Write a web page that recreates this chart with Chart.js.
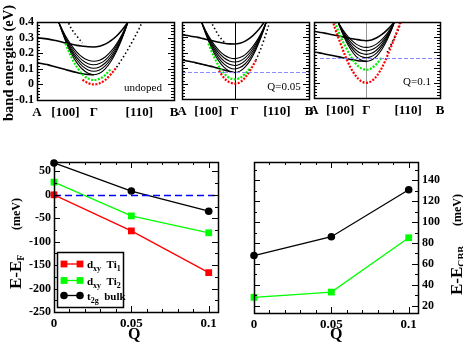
<!DOCTYPE html>
<html>
<head>
<meta charset="utf-8">
<script src="https://cdn.jsdelivr.net/npm/chart.js@4.4.0/dist/chart.umd.min.js"></script>
<style>
html, body { margin: 0; padding: 0; background: #fff; }
#wrap { position: relative; width: 463px; height: 343px; overflow: hidden; }
#wrap canvas { position: absolute; left: 0; top: 0; }
</style>
</head>
<body>
<div id="wrap">
  <canvas id="band0" width="463" height="343"></canvas>
  <canvas id="band1" width="463" height="343"></canvas>
  <canvas id="band2" width="463" height="343"></canvas>
  <canvas id="efChart" width="463" height="343"></canvas>
  <canvas id="cbbChart" width="463" height="343"></canvas>
</div>
<script>
const _ = null;
// k path: A (-1) -> Gamma (0) -> B (1.41)
const kx = [-1.0,-0.9,-0.8,-0.7,-0.6,-0.5,-0.4,-0.3,-0.2,-0.1,0,0.1,0.2,0.3,0.4,0.5,0.6,0.7,0.8,0.9,1.0];
const kTickVals = [-1, -0.5, 0, 0.8, 1.41];
const kTickText = ['A', '[100]', 'Γ', '[110]', 'B'];
const panelNames = ['undoped', 'Q=0.05', 'Q=0.1'];
const efTop = [null, 0.077, 0.166];

// undoped
const q0HeavyUp  = [0.300,0.295,0.290,0.283,0.275,0.266,0.258,0.250,0.245,0.241,0.240,0.245,0.258,0.280,0.310,0.350,0.400,0.460,_,_,_];
const q0HeavyLow = [0.140,0.132,0.125,0.115,0.105,0.095,0.085,0.076,0.068,0.063,0.062,_,_,_,_,_,_,_,_,_,_];
const q0Sub1 = [_,_,_,0.490,0.380,0.280,0.200,0.140,0.097,0.071,0.062,0.071,0.100,0.147,0.212,0.297,0.400,0.520,_,_,_];
const q0Sub2 = [_,_,_,0.487,0.380,0.289,0.215,0.158,0.117,0.092,0.084,0.093,0.119,0.163,0.224,0.303,0.400,0.514,_,_,_];
const q0Sub3 = [_,_,_,0.481,0.381,0.296,0.227,0.173,0.135,0.112,0.104,0.112,0.137,0.178,0.235,0.309,0.400,0.507,_,_,_];
const q0Sub4 = [_,_,_,0.475,0.383,0.304,0.240,0.190,0.154,0.133,0.126,0.134,0.156,0.195,0.248,0.316,0.400,0.499,_,_,_];
const q0Sub5 = [_,_,_,0.469,0.384,0.312,0.253,0.207,0.174,0.155,0.148,0.155,0.176,0.211,0.260,0.323,0.400,0.491,_,_,_];
const q0Green = [_,_,_,_,_,0.262,0.178,0.112,0.065,0.037,0.028,0.036,0.060,0.100,_,_,_,_,_,_,_];
const q0Red   = [_,_,_,_,_,_,_,_,0.030,0.008,0.000,0.007,0.028,0.065,0.110,_,_,_,_,_,_];
const q0LightR = [_,_,_,_,_,_,_,_,_,_,_,_,_,_,0.110,0.165,0.225,0.290,0.360,0.440,_];
const q0LightL = [_,_,_,_,_,0.440,0.360,0.310,0.265,_,_,_,_,_,_,_,_,_,_,_,_];

// Q = 0.05
const q1HeavyUp  = [0.317,0.312,0.306,0.300,0.292,0.284,0.276,0.268,0.262,0.258,0.257,0.262,0.276,0.298,0.330,0.370,0.420,_,_,_,_];
const q1HeavyLow = [0.154,0.147,0.140,0.132,0.124,0.116,0.108,0.098,0.088,0.078,0.072,_,_,_,_,_,_,_,_,_,_];
const q1Sub1 = [_,_,_,0.477,0.370,0.279,0.204,0.146,0.105,0.080,0.072,0.081,0.108,0.154,0.218,0.300,0.400,0.518,_,_,_];
const q1Sub2 = [_,_,_,0.472,0.372,0.287,0.218,0.164,0.126,0.103,0.095,0.104,0.129,0.171,0.230,0.307,0.400,0.510,_,_,_];
const q1Sub3 = [_,_,_,0.466,0.374,0.296,0.232,0.182,0.146,0.125,0.118,0.126,0.149,0.189,0.243,0.314,0.400,0.502,_,_,_];
const q1Sub4 = [_,_,_,0.461,0.376,0.304,0.245,0.199,0.166,0.147,0.140,0.147,0.169,0.205,0.255,0.320,0.400,0.494,_,_,_];
const q1Sub5 = [_,_,_,0.456,0.378,0.312,0.258,0.216,0.186,0.168,0.162,0.169,0.188,0.222,0.268,0.327,0.400,0.486,_,_,_];
const q1Green = [_,_,_,_,_,0.260,0.180,0.113,0.066,0.037,0.028,0.037,0.064,0.105,_,_,_,_,_,_,_];
const q1Red   = [_,_,_,_,_,_,_,0.085,0.035,0.009,0.000,0.009,0.040,0.090,0.150,_,_,_,_,_,_];
const q1LightR = [_,_,_,_,_,_,_,_,_,_,_,_,_,_,0.150,0.230,0.330,0.440,_,_,_];
const q1LightL = [_,_,_,_,_,0.430,0.370,0.310,0.270,_,_,_,_,_,_,_,_,_,_,_,_];

// Q = 0.1
const q2HeavyUp  = [0.339,0.333,0.327,0.320,0.313,0.306,0.299,0.292,0.286,0.280,0.277,0.282,0.296,0.318,0.348,0.385,0.430,_,_,_,_];
const q2HeavyLow = [0.203,0.197,0.190,0.183,0.176,0.169,0.162,0.154,0.148,0.143,0.141,_,_,_,_,_,_,_,_,_,_];
const q2Sub1 = [_,_,_,_,0.461,0.363,0.283,0.221,0.176,0.150,0.141,0.150,0.176,0.221,0.283,0.363,0.461,_,_,_,_];
const q2Sub2 = [_,_,_,_,0.455,0.366,0.294,0.238,0.197,0.173,0.165,0.173,0.197,0.238,0.294,0.366,0.455,_,_,_,_];
const q2Sub3 = [_,_,_,_,0.450,0.370,0.304,0.253,0.216,0.194,0.187,0.194,0.216,0.253,0.304,0.370,0.450,_,_,_,_];
const q2Sub4 = [_,_,_,_,0.445,0.373,0.314,0.269,0.236,0.217,0.210,0.217,0.236,0.269,0.314,0.373,0.445,_,_,_,_];
const q2Sub5 = [_,_,_,_,0.439,0.376,0.325,0.285,0.256,0.239,0.233,0.239,0.256,0.285,0.325,0.376,0.439,_,_,_,_];
const q2Green = [_,_,_,_,0.400,0.310,0.240,0.175,0.125,0.096,0.086,0.096,0.125,0.170,_,_,_,_,_,_,_];
const q2Red   = [_,_,_,0.480,0.360,0.265,0.175,0.100,0.045,0.011,0.000,0.011,0.045,0.100,0.175,0.260,0.350,0.450,_,_,_];
const q2LightR = [_,_,_,_,_,_,_,_,_,_,_,_,_,_,0.200,0.270,0.340,0.430,_,_,_];

// lower panels
const qVals = [0, 0.05, 0.1];
const seriesLabels = ['d_xy  Ti_1', 'd_xy  Ti_2', 't_2g  bulk'];
const ti1Ef  = [0, -77, -166];
const ti2Ef  = [27, -45, -81];
const bulkEf = [68, 8, -35];
const ti2Cbb  = [28, 33, 85];
const bulkCbb = [68, 86, 131];

const serif = "'Liberation Serif','Times New Roman',serif";
const tickFont = {family: serif, size: 12, weight: 'bold'};
const noGrid = {display: false, drawTicks: false};

function drawSub(ctx, str, x, y, size, subSize, dy) {
  // text like "d_xy Ti_1" : parts after "_" are subscripts (one word)
  const parts = str.split(/(_\w+)/).filter(s => s.length);
  parts.forEach(p => {
    const sub = p[0] === '_';
    const t = sub ? p.slice(1) : p;
    ctx.font = 'bold ' + (sub ? subSize : size) + 'px ' + serif;
    ctx.fillText(t, x, y + (sub ? dy : 0));
    x += ctx.measureText(t).width;
  });
}

function drawRich(ctx, it) {
  ctx.save();
  ctx.translate(it.x, it.y);
  ctx.rotate(it.rot || 0);
  ctx.textAlign = 'left';
  ctx.textBaseline = 'alphabetic';
  ctx.fillStyle = '#000';
  let x = 0;
  it.parts.forEach(([t, size, dy, bold]) => {
    ctx.font = (bold === false ? '' : 'bold ') + size + 'px ' + serif;
    ctx.fillText(t, x, dy || 0);
    x += ctx.measureText(t).width;
  });
  ctx.restore();
}

const frame = {
  id: 'frame',
  beforeDatasetsDraw(chart, args, o) {
    const ctx = chart.ctx, a = chart.chartArea;
    (o.vlines || []).forEach(v => {
      const p = Math.round(chart.scales.x.getPixelForValue(v.value)) + 0.5;
      ctx.save();
      ctx.strokeStyle = v.color; ctx.lineWidth = v.width || 1;
      ctx.beginPath(); ctx.moveTo(p, a.top); ctx.lineTo(p, a.bottom); ctx.stroke();
      ctx.restore();
    });
  },
  afterDatasetsDraw(chart, args, o) {
    const ctx = chart.ctx, a = chart.chartArea;
    ctx.save();
    (o.hlines || []).forEach(h => {
      if (h.value == null) return;
      const p = Math.round(chart.scales.y.getPixelForValue(h.value)) + 0.5;
      ctx.strokeStyle = h.color; ctx.lineWidth = h.width || 1;
      ctx.setLineDash(h.dash || []);
      ctx.beginPath(); ctx.moveTo(a.left, p); ctx.lineTo(a.right, p); ctx.stroke();
    });
    ctx.setLineDash([]);
    ctx.strokeStyle = '#000';
    ctx.lineWidth = 1;
    (o.ticks || []).forEach(t => {
      const s = chart.scales[t.axis];
      const n0 = Math.ceil(s.min / t.minor - 1e-6), n1 = Math.floor(s.max / t.minor + 1e-6);
      const every = Math.round(t.major / t.minor);
      for (let i = n0; i <= n1; i++) {
        const len = i % every === 0 ? 6 : 3;
        const p = Math.round(s.getPixelForValue(i * t.minor)) + 0.5;
        ctx.beginPath();
        if (t.axis === 'y') {
          ctx.moveTo(a.left, p); ctx.lineTo(a.left + len, p);
          ctx.moveTo(a.right, p); ctx.lineTo(a.right - len, p);
        } else {
          ctx.moveTo(p, a.bottom); ctx.lineTo(p, a.bottom - len);
          ctx.moveTo(p, a.top); ctx.lineTo(p, a.top + len);
        }
        ctx.stroke();
      }
    });
    ctx.lineWidth = 1.5;
    ctx.strokeRect(Math.round(a.left) + 0.5, Math.round(a.top) + 0.5, Math.round(a.right - a.left), Math.round(a.bottom - a.top));

    // legend box
    if (o.legend) {
      const L = o.legend;
      ctx.fillStyle = '#fff';
      ctx.fillRect(L.x0, L.y0, L.x1 - L.x0, L.y1 - L.y0);
      ctx.lineWidth = 1.5;
      ctx.strokeRect(L.x0 + 0.5, L.y0 + 0.5, L.x1 - L.x0, L.y1 - L.y0);
      chart.data.datasets.forEach((d, i) => {
        const y = L.rows[i];
        ctx.strokeStyle = d.borderColor; ctx.lineWidth = 1.3;
        ctx.beginPath(); ctx.moveTo(L.m0, y); ctx.lineTo(L.m1, y); ctx.stroke();
        ctx.fillStyle = d.pointBackgroundColor;
        [L.m0, L.m1].forEach(mx => {
          ctx.beginPath();
          if (d.pointStyle === 'rect') {
            const h = d.pointRadius * Math.SQRT1_2;
            ctx.rect(mx - h, y - h, 2 * h, 2 * h);
          } else {
            ctx.arc(mx, y, d.pointRadius, 0, Math.PI * 2);
          }
          ctx.fill();
        });
        ctx.fillStyle = '#000';
        ctx.textAlign = 'left'; ctx.textBaseline = 'alphabetic';
        drawSub(ctx, d.label, L.tx, y + 4, 11, 8, 3);
      });
    }
    (o.texts || []).forEach(t => {
      ctx.fillStyle = '#000';
      ctx.font = (t.bold ? 'bold ' : '') + t.size + 'px ' + serif;
      ctx.textAlign = 'center'; ctx.textBaseline = 'middle';
      ctx.fillText(t.text, t.x, t.y);
    });
    (o.rich || []).forEach(it => drawRich(ctx, it));
    ctx.restore();
  }
};

function band(arr, color, width, dash, order) {
  return {
    data: kx.map((x, i) => ({x: x, y: arr[i]})),
    borderColor: color, borderWidth: width, borderDash: dash,
    pointRadius: 0, fill: false, spanGaps: false,
    cubicInterpolationMode: 'monotone', order: order
  };
}

function topPanel(id, idx, b, area, showY, extra) {
  const [l, t, r, bt] = area;
  const yW = showY ? 32 : 0, xH = 20;
  const ds = [];
  b.subs.forEach(a => ds.push(band(a, '#000', 1.1, [], 6)));
  b.heavy.forEach(a => ds.push(band(a, '#000', 1.6, [], 5)));
  b.light.forEach(a => ds.push(band(a, '#000', 1.6, [1.5, 2.5], 4)));
  ds.push(band(b.green, '#00ee00', 2.2, [2, 1.5], 2));
  ds.push(band(b.red, '#ff0000', 2.2, [2, 1.5], 1));
  new Chart(document.getElementById(id), {
    type: 'line',
    data: {datasets: ds},
    options: {
      responsive: false, animation: false, events: [],
      layout: {padding: {left: l - yW, top: t, right: 463 - r, bottom: 343 - bt - xH}},
      plugins: {
        legend: {display: false}, tooltip: {enabled: false},
        frame: Object.assign({
          ticks: [{axis: 'y', major: 0.1, minor: 0.02}],
          hlines: [{value: efTop[idx], color: '#8c8cff', dash: [4, 2], width: 1.2}],
          texts: [{text: panelNames[idx], x: extra.tx, y: extra.ty, size: 11}]
        }, extra.frame || {})
      },
      scales: {
        x: {
          type: 'linear', min: -1, max: 1.41,
          grid: noGrid, border: {display: false},
          afterBuildTicks: s => { s.ticks = kTickVals.map(v => ({value: v})); },
          afterFit: s => { s.height = xH; },
          ticks: {autoSkip: false, maxRotation: 0, padding: 5, color: '#000',
                  font: {family: serif, size: 13, weight: 'bold'},
                  callback: (v, i) => kTickText[i]}
        },
        y: {
          type: 'linear', min: -0.1, max: 0.4,
          grid: noGrid, border: {display: false},
          afterFit: s => { s.width = yW; },
          ticks: {display: showY, autoSkip: false, stepSize: 0.1, padding: 3, color: '#000', font: tickFont,
                  callback: v => String(+v.toFixed(1))}
        }
      }
    },
    plugins: [frame]
  });
}

topPanel('band0', 0, {subs: [q0Sub1, q0Sub2, q0Sub3, q0Sub4, q0Sub5], heavy: [q0HeavyUp, q0HeavyLow],
  light: [q0LightR, q0LightL], green: q0Green, red: q0Red}, [37, 22, 174, 100], true,
  {tx: 143, ty: 88, frame: {rich: [{x: 13, y: 121, rot: -Math.PI / 2, parts: [['band energies (eV)', 14.5]]}]}});
topPanel('band1', 1, {subs: [q1Sub1, q1Sub2, q1Sub3, q1Sub4, q1Sub5], heavy: [q1HeavyUp, q1HeavyLow],
  light: [q1LightR, q1LightL], green: q1Green, red: q1Red}, [182, 22, 309, 99], false,
  {tx: 284, ty: 87, frame: {vlines: [{value: 0, color: '#000'}]}});
topPanel('band2', 2, {subs: [q2Sub1, q2Sub2, q2Sub3, q2Sub4, q2Sub5], heavy: [q2HeavyUp, q2HeavyLow],
  light: [q2LightR], green: q2Green, red: q2Red}, [314, 22, 440, 98], false,
  {tx: 417, ty: 82, frame: {vlines: [{value: 0, color: '#999'}]}});

function qSet(vals, color, style, r, label) {
  return {
    label: label,
    data: qVals.map((q, i) => ({x: q, y: vals[i]})),
    borderColor: color, borderWidth: 1.3,
    pointStyle: style, pointRadius: r,
    pointBackgroundColor: color, pointBorderColor: color, pointBorderWidth: 0,
    tension: 0, fill: false, clip: false
  };
}

function keepSteps(step) {
  return s => {
    s.ticks = s.ticks.filter(t => t.value >= s.min - 1e-9 && t.value <= s.max + 1e-9 &&
      Math.abs(t.value / step - Math.round(t.value / step)) < 1e-6);
  };
}

const qAxis = {
  type: 'linear', min: 0, max: 0.106,
  grid: noGrid, border: {display: false},
  afterBuildTicks: keepSteps(0.05),
  afterFit: s => { s.height = 20; },
  ticks: {stepSize: 0.05, includeBounds: false, autoSkip: false, maxRotation: 0, padding: 4, color: '#000',
          font: {family: serif, size: 13, weight: 'bold'},
          callback: v => String(+v.toFixed(2))}
};

new Chart(document.getElementById('efChart'), {
  type: 'line',
  data: {datasets: [
    qSet(ti1Ef, '#ff0000', 'rect', 4.8, seriesLabels[0]),
    qSet(ti2Ef, '#00ff00', 'rect', 4.8, seriesLabels[1]),
    qSet(bulkEf, '#000000', 'circle', 3.8, seriesLabels[2])
  ]},
  options: {
    responsive: false, animation: false, events: [],
    layout: {padding: {left: 54 - 40, top: 162, right: 463 - 218, bottom: 343 - 312 - 20}},
    plugins: {
      legend: {display: false}, tooltip: {enabled: false},
      frame: {
        ticks: [{axis: 'y', major: 50, minor: 25}, {axis: 'x', major: 0.05, minor: 0.01}],
        hlines: [{value: 0, color: '#0000ff', dash: [7, 4], width: 1.5}],
        legend: {x0: 57, y0: 252, x1: 123, y1: 307, rows: [264, 280.5, 295.5], m0: 64, m1: 80, tx: 87},
        rich: [
          {x: 21, y: 289, rot: -Math.PI / 2, parts: [['E-E', 17], ['F', 10, 3]]},
          {x: 20, y: 230, rot: -Math.PI / 2, parts: [['(meV)', 12]]},
          {x: 128, y: 339, parts: [['Q', 16]]}
        ]
      }
    },
    scales: {
      x: qAxis,
      y: {
        type: 'linear', min: -250, max: 70,
        grid: noGrid, border: {display: false},
        afterBuildTicks: keepSteps(50),
        afterFit: s => { s.width = 40; },
        ticks: {stepSize: 50, includeBounds: false, autoSkip: false, padding: 3, color: '#000', font: tickFont}
      }
    }
  },
  plugins: [frame]
});

new Chart(document.getElementById('cbbChart'), {
  type: 'line',
  data: {datasets: [
    qSet(ti2Cbb, '#00ff00', 'rect', 4.8, seriesLabels[1]),
    qSet(bulkCbb, '#000000', 'circle', 3.8, seriesLabels[2])
  ]},
  options: {
    responsive: false, animation: false, events: [],
    layout: {padding: {left: 254, top: 162, right: 463 - 418 - 30, bottom: 343 - 313 - 20}},
    plugins: {
      legend: {display: false}, tooltip: {enabled: false},
      frame: {
        ticks: [{axis: 'y', major: 20, minor: 10}, {axis: 'x', major: 0.05, minor: 0.01}],
        rich: [
          {x: 462, y: 295, rot: -Math.PI / 2, parts: [['E-E', 17], ['CBB', 10, 3]]},
          {x: 461, y: 226, rot: -Math.PI / 2, parts: [['(meV)', 12]]},
          {x: 330, y: 339, parts: [['Q', 16]]}
        ]
      }
    },
    scales: {
      x: qAxis,
      y: {
        type: 'linear', position: 'right', min: 13, max: 157.5,
        grid: noGrid, border: {display: false},
        afterBuildTicks: keepSteps(20),
        afterFit: s => { s.width = 30; },
        ticks: {stepSize: 20, includeBounds: false, autoSkip: false, padding: 4, color: '#000', font: tickFont}
      }
    }
  },
  plugins: [frame]
});
</script>
</body>
</html>
